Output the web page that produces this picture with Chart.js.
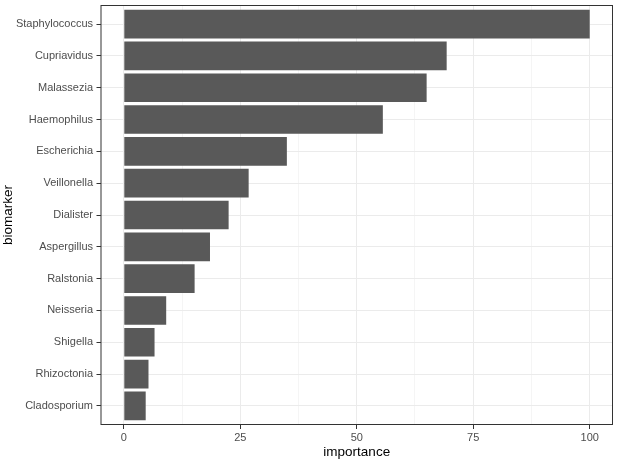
<!DOCTYPE html>
<html>
<head>
<meta charset="utf-8">
<script src="https://cdn.jsdelivr.net/npm/chart.js@4"></script>
<style>
  html, body { margin: 0; padding: 0; background: #fff; }
  canvas { display: block; }
</style>
</head>
<body>
<canvas id="chart" width="619" height="464"></canvas>
<script>
// data
const categories = ['Staphylococcus', 'Cupriavidus', 'Malassezia', 'Haemophilus', 'Escherichia',
    'Veillonella', 'Dialister', 'Aspergillus', 'Ralstonia', 'Neisseria', 'Shigella',
    'Rhizoctonia', 'Cladosporium'];
const importance = [100, 69.3, 65.0, 55.6, 35.0, 26.8, 22.5, 18.5, 15.2, 9.1, 6.6, 5.3, 4.7];
const xTicks = [0, 25, 50, 75, 100];
const xMinorTicks = [12.5, 37.5, 62.5, 87.5];

const FONT = 'Arial, "Liberation Sans", sans-serif';

// full panel border like ggplot theme_bw
const panelBorder = {
    id: 'panelBorder',
    afterDraw(chart) {
        const a = chart.chartArea;
        const ctx = chart.ctx;
        ctx.save();
        ctx.strokeStyle = '#333333';
        ctx.lineWidth = 1;
        ctx.strokeRect(a.left + 0.5, a.top + 0.5, a.right - a.left - 1, a.bottom - a.top - 1);
        ctx.restore();
    }
};

const isMajor = v => xTicks.includes(v);

new Chart(document.getElementById('chart'), {
    type: 'bar',
    data: {
        datasets: [{
            data: importance.map((v, i) => ({ x: v, y: i + 1 })),
            backgroundColor: '#595959',
            borderWidth: 0,
            categoryPercentage: 0.9,
            barPercentage: 1
        }]
    },
    options: {
        indexAxis: 'y',
        responsive: false,
        animation: false,
        layout: { padding: { top: 5, right: 6, left: 0, bottom: 0 } },
        plugins: { legend: { display: false }, tooltip: { enabled: false } },
        scales: {
            x: {
                type: 'linear',
                min: -5,
                max: 105,
                afterBuildTicks: s => {
                    s.ticks = xTicks.concat(xMinorTicks).sort((a, b) => a - b).map(v => ({ value: v }));
                },
                afterFit: s => { s.height = 39; s.paddingLeft = 0; s.paddingRight = 0; },
                border: { display: false },
                grid: {
                    color: ctx => isMajor(ctx.tick.value) ? '#EBEBEB' : '#F2F2F2',
                    lineWidth: ctx => isMajor(ctx.tick.value) ? 1 : 0.8,
                    tickColor: ctx => isMajor(ctx.tick.value) ? '#333333' : 'rgba(0,0,0,0)',
                    tickLength: 4
                },
                ticks: {
                    autoSkip: false,
                    maxRotation: 0,
                    padding: 2,
                    color: '#4D4D4D',
                    font: { family: FONT, size: 11 },
                    callback: v => isMajor(v) ? String(v) : ''
                },
                title: {
                    display: true,
                    text: 'importance',
                    color: '#000000',
                    font: { family: FONT, size: 13.5 },
                    padding: { top: 0, bottom: 4 }
                }
            },
            y: {
                type: 'linear',
                reverse: true,
                offset: false,
                min: 0.4,
                max: categories.length + 0.6,
                afterBuildTicks: s => {
                    s.ticks = categories.map((c, i) => ({ value: i + 1 }));
                },
                afterFit: s => { s.width = 100.5; s.paddingTop = 0; s.paddingBottom = 0; },
                border: { display: false },
                grid: {
                    offset: false,
                    color: '#EBEBEB',
                    lineWidth: 1,
                    tickColor: '#333333',
                    tickLength: 4
                },
                ticks: {
                    autoSkip: false,
                    padding: 3.5,
                    color: '#4D4D4D',
                    font: { family: FONT, size: 11 },
                    callback: v => categories[v - 1]
                },
                title: {
                    display: true,
                    text: 'biomarker',
                    color: '#000000',
                    font: { family: FONT, size: 13.5 },
                    padding: { top: 0, bottom: 0 }
                }
            }
        }
    },
    plugins: [panelBorder]
});
</script>
</body>
</html>
